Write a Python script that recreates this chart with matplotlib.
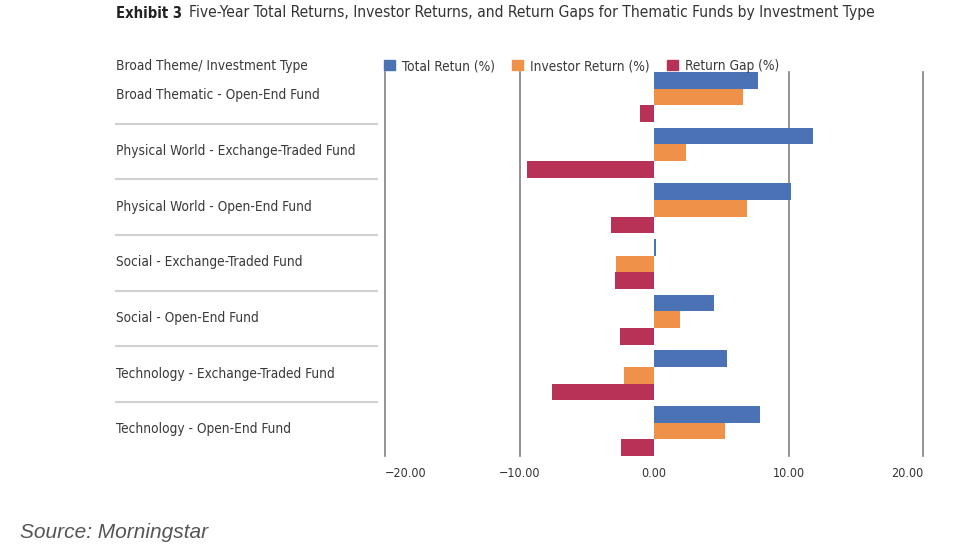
import matplotlib
matplotlib.use("Agg")
import matplotlib.pyplot as plt
import matplotlib.transforms as mtransforms
from matplotlib.patches import Patch

plt.rcParams['font.family'] = ['DejaVu Sans']
plt.rcParams['font.stretch'] = 'condensed'

# data
categories = ["Broad Thematic - Open-End Fund",
              "Physical World - Exchange-Traded Fund",
              "Physical World - Open-End Fund",
              "Social - Exchange-Traded Fund",
              "Social - Open-End Fund",
              "Technology - Exchange-Traded Fund",
              "Technology - Open-End Fund"]
total_return = [7.7, 11.8, 10.15, 0.13, 4.45, 5.4, 7.85]
investor_return = [6.6, 2.4, 6.9, -2.8, 1.95, -2.25, 5.3]
return_gap = [-1.05, -9.45, -3.2, -2.9, -2.55, -7.55, -2.45]
series_names = ["Total Retun (%)", "Investor Return (%)", "Return Gap (%)"]
xticks = [-20, -10, 0, 10, 20]

colors = ["#4a72b5", "#f0914a", "#b83257"]
W, H = 955, 556

fig = plt.figure(figsize=(W / 100, H / 100), dpi=100)
ax = fig.add_axes([385 / W, (H - 456) / H, 538 / W, 384 / H])

ypos = list(range(len(categories)))
bh = 0.3
for k, vals in enumerate([total_return, investor_return, return_gap]):
    ax.barh([y + (k - 1) * bh for y in ypos], vals, height=bh, color=colors[k], zorder=3)

ax.set_xlim(-20, 20)
ax.set_ylim(len(categories) - 0.55, -0.45)
for t in xticks:
    if t != 0:
        ax.axvline(t, color="#808080", lw=1.2, zorder=1, clip_on=False)
ax.set_xticks(xticks)
ax.set_xticklabels(["\u2212%.2f" % abs(t) if t < 0 else "%.2f" % t for t in xticks],
                   fontsize=9, color="#333333")
ax.tick_params(axis="x", length=0, pad=8)
# end labels are pulled inside the plot area
labs = ax.get_xticklabels()
labs[0].set_horizontalalignment("left")
labs[-1].set_horizontalalignment("right")
ax.set_yticks([])
for s in ax.spines.values():
    s.set_visible(False)

# category labels and separators on the left
trans = mtransforms.blended_transform_factory(fig.transFigure, ax.transData)
for i, c in enumerate(categories):
    ax.text(116 / W, i - 0.03, c, transform=trans, ha="left", va="center",
            fontsize=9.8, color="#3a3a3a", clip_on=False)
    if i < len(categories) - 1:
        ax.plot([116 / W, 377 / W], [i + 0.48, i + 0.48], transform=trans,
                color="#d0d0d0", lw=1.5, clip_on=False)

fig.text(116 / W, 1 - 66 / H, "Broad Theme/ Investment Type", ha="left", va="center",
         fontsize=9.8, color="#3a3a3a")

handles = [Patch(color=c) for c in colors]
fig.legend(handles, series_names, loc="center left", bbox_to_anchor=(384 / W, 1 - 66 / H),
           ncol=3, frameon=False, fontsize=9.8, handlelength=0.8, handleheight=0.8,
           handletextpad=0.5, columnspacing=1.3, borderaxespad=0, borderpad=0,
           labelcolor="#3a3a3a")

t1 = fig.text(116 / W, 1 - 13 / H, "Exhibit 3", ha="left", va="center", fontsize=10.6,
              fontweight="bold", color="#222222")
fig.canvas.draw()
bb = t1.get_window_extent()
fig.text((bb.x1 + 7) / W, 1 - 13 / H,
         "Five-Year Total Returns, Investor Returns, and Return Gaps for Thematic Funds by Investment Type",
         ha="left", va="center", fontsize=11.2, color="#333333")

fig.text(20 / W, 1 - 533 / H, "Source: Morningstar", ha="left", va="center", fontsize=15,
         style="italic", color="#555555", family=["Liberation Sans", "DejaVu Sans"],
         stretch="normal")

fig.savefig("out.png", dpi=100)
